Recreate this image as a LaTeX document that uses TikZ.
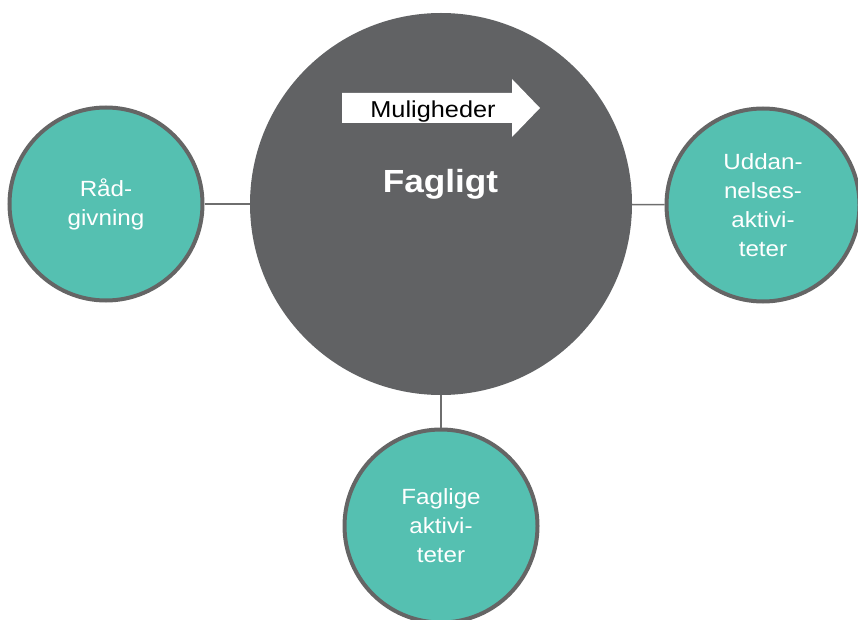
\documentclass[tikz,border=0pt]{standalone}
\usepackage{fontspec}
\setmainfont[FakeStretch=1.1]{Liberation Sans}
\definecolor{teal1}{HTML}{55C0B1}
\definecolor{dark1}{HTML}{616264}
\definecolor{rim1}{HTML}{656565}
\definecolor{link1}{HTML}{6E6E6E}
\tikzset{
  hub/.style={circle, fill=dark1, draw=none, minimum size=382pt, inner sep=0pt},
  sat/.style={circle, fill=teal1, draw=rim1, line width=4pt, minimum size=193pt, inner sep=0pt,
    text=white, align=center, font=\fontsize{22}{29}\selectfont},
  link/.style={draw=link1, line width=1.5pt},
}
\begin{document}
\begin{tikzpicture}[x=1pt,y=-1pt]
\clip (0,0) rectangle (858,620);
\useasboundingbox (0,0) rectangle (858,620);
\node[hub] (hub) at (441,204) {};
\node[sat] (left) at (106,204) {Råd-\\givning};
\node[sat] (right) at (763,205) {Uddan-\\nelses-\\aktivi-\\teter};
\node[sat] (bottom) at (441,526) {Faglige\\aktivi-\\teter};
\draw[link] (left) -- (hub);
\draw[link] (hub) -- (right);
\draw[link] (hub) -- (bottom);
\fill[white] (342,93) -- (512,93) -- (512,79) -- (540,108) -- (512,137) -- (512,123) -- (342,123) -- cycle;
\node[font=\fontsize{23}{26}\selectfont, text=black, anchor=base] (mul) at (433,117.5) {Muligheder};
\node[font=\bfseries\fontsize{32}{36}\selectfont, text=white, anchor=base] (fag) at (440.5,193) {Fagligt};
\end{tikzpicture}
\end{document}
